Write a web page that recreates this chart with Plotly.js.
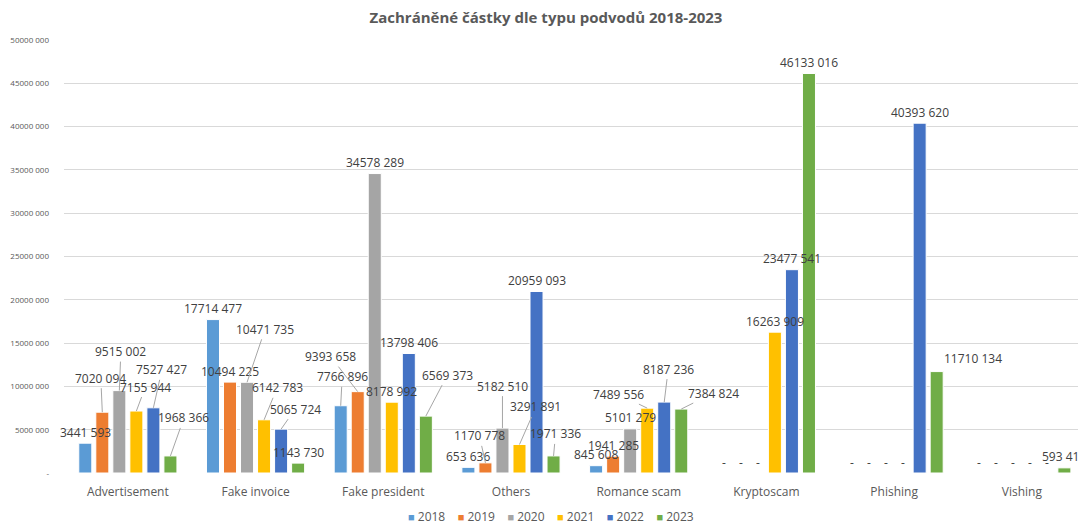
<!DOCTYPE html>
<html><head><meta charset="utf-8">
<script src="https://cdn.plot.ly/plotly-3.0.1.min.js"></script>
<style>html,body{margin:0;padding:0;background:#fff}#chart{width:1078px;height:524px}</style>
</head><body><div id="chart"></div>
<script>
// ---- data ----
const categories = ['Advertisement','Fake invoice','Fake president','Others','Romance scam','Kryptoscam','Phishing','Vishing'];
const years = ['2018','2019','2020','2021','2022','2023'];
const v2018 = [3441593, 17714477, 7766896, 653636, 845608, 0, 0, 0];
const v2019 = [7020094, 10494225, 9393658, 1170778, 1941285, 0, 0, 0];
const v2020 = [9515002, 10471735, 34578289, 5182510, 5101279, 0, 0, 0];
const v2021 = [7155944, 6142783, 8178992, 3291891, 7489556, 16263909, 0, 0];
const v2022 = [7527427, 5065724, 13798406, 20959093, 8187236, 23477541, 40393620, 0];
const v2023 = [1968366, 1143730, 6569373, 1971336, 7384824, 46133016, 11710134, 593410];
const yTickVals = [0, 5000000, 10000000, 15000000, 20000000, 25000000, 30000000, 35000000, 40000000, 45000000, 50000000];
const titleText = 'Zachráněné částky dle typu podvodů 2018-2023';

// ---- style ----
const seriesValues = [v2018, v2019, v2020, v2021, v2022, v2023];
const colors = ['#5B9BD5', '#ED7D31', '#A5A5A5', '#FFC000', '#4472C4', '#70AD47'];
const FONT = '"Open Sans", "Liberation Sans", sans-serif';
const BARGAP = 0.2;

// moved data labels (pixel offsets from the bar top), keyed "category|year"
const labelMoves = {
  'Advertisement|2019': [-1.5, -34, true],
  'Advertisement|2020': [1.5, -39, true],
  'Advertisement|2021': [9, -24, true],
  'Advertisement|2022': [8.5, -38, true],
  'Advertisement|2023': [13.5, -38, true],
  'Fake invoice|2020': [18, -53, true],
  'Fake invoice|2021': [13, -32, true],
  'Fake invoice|2022': [14, -20, true],
  'Fake president|2018': [1.5, -29, true],
  'Fake president|2019': [-27, -35, true],
  'Fake president|2023': [21.5, -41, true],
  'Others|2019': [-6, -27, true],
  'Others|2020': [0, -42, true],
  'Others|2021': [16.5, -37.5, true],
  'Others|2023': [2, -22, true],
  'Romance scam|2021': [-29, -14, true],
  'Romance scam|2022': [4, -33, true],
  'Romance scam|2023': [32, -16, true],
  'Phishing|2023': [36, -12.6, false]
};

function fmt(v) {
  if (v === 0) return '-';
  const th = Math.floor(v / 1000);
  const rest = String(v % 1000).padStart(3, '0');
  return th + ' ' + rest;
}

const traces = years.map((yr, j) => ({
  type: 'bar',
  name: yr,
  x: categories,
  y: seriesValues[j],
  marker: { color: colors[j], line: { color: '#ffffff', width: 1 } },
  hoverinfo: 'x+y+name'
}));

const annotations = [];
const slot = (1 - BARGAP) / years.length;
years.forEach((yr, j) => {
  seriesValues[j].forEach((v, i) => {
    const key = categories[i] + '|' + yr;
    const base = {
      x: i + (j - (years.length - 1) / 2) * slot,
      y: v, xref: 'x', yref: 'y',
      text: fmt(v),
      font: { family: FONT, size: 12, color: '#404040' }
    };
    const mv = labelMoves[key];
    if (mv && mv[2]) {
      Object.assign(base, {
        showarrow: true, ax: mv[0], ay: mv[1], arrowhead: 0, arrowwidth: 1,
        arrowcolor: '#a6a6a6', standoff: 0, startstandoff: 0
      });
    } else if (mv) {
      Object.assign(base, { showarrow: false, xshift: mv[0], yshift: -mv[1], yanchor: 'middle' });
    } else {
      Object.assign(base, { showarrow: false, yshift: 11, yanchor: 'middle' });
    }
    annotations.push(base);
  });
});

// legend drawn as one centred line of coloured squares + year labels
const legendText = years.map((yr, j) =>
  '<span style="color:' + colors[j] + ';font-size:11px">■</span> ' + yr).join('&nbsp;&nbsp;&nbsp;&nbsp;');
annotations.push({
  text: legendText, showarrow: false,
  xref: 'paper', yref: 'paper',
  x: (551 - 64) / 1014, xanchor: 'center',
  y: -(516 - 473) / 433, yanchor: 'middle',
  font: { family: FONT, size: 12, color: '#595959' }
});

const layout = {
  width: 1078, height: 524,
  margin: { l: 64, r: 0, t: 40, b: 51 },
  paper_bgcolor: '#ffffff', plot_bgcolor: '#ffffff',
  barmode: 'group', bargap: BARGAP, bargroupgap: 0.235,
  title: {
    text: titleText,
    font: { family: FONT, size: 15, color: '#595959', weight: 'bold' },
    x: 0.5065, xref: 'container', xanchor: 'center',
    y: 1 - 18 / 524, yref: 'container', yanchor: 'middle'
  },
  xaxis: {
    type: 'category', range: [-0.5, 7.44],
    showgrid: false, zeroline: false, showline: false,
    ticks: '', ticklabelstandoff: 10,
    tickfont: { family: FONT, size: 12, color: '#595959' }
  },
  yaxis: {
    range: [0, 50000000],
    tickvals: yTickVals, ticktext: yTickVals.map(fmt),
    showgrid: true, gridcolor: '#d9d9d9', gridwidth: 1,
    zeroline: false, showline: false, ticks: '', ticklabelstandoff: 14,
    tickfont: { family: FONT, size: 8, color: '#595959' }
  },
  showlegend: false,
  annotations: annotations
};

Plotly.newPlot('chart', traces, layout, { displayModeBar: false, staticPlot: true });
</script>
</body></html>
